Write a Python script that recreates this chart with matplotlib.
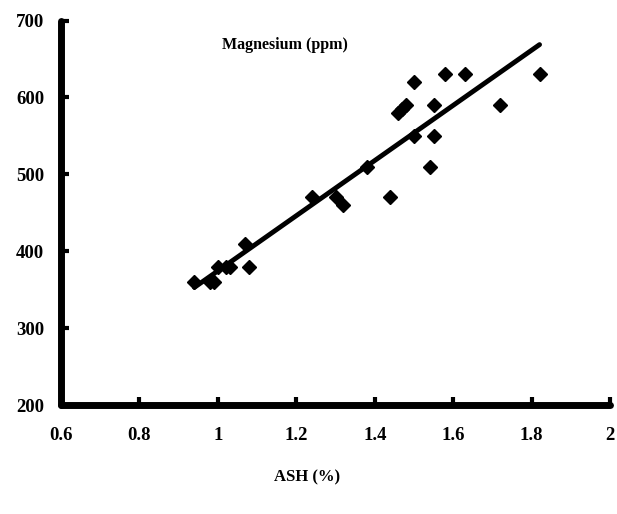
import matplotlib
matplotlib.use('Agg')
import matplotlib.pyplot as plt
import numpy as np

# ASH (%) vs Magnesium (ppm)
ash = [0.94, 0.98, 0.99, 1.00, 1.02, 1.03, 1.07, 1.08, 1.24, 1.30, 1.32, 1.38,
       1.44, 1.46, 1.47, 1.48, 1.50, 1.50, 1.54, 1.55, 1.55, 1.58, 1.63, 1.72, 1.82]
magnesium = [360, 360, 360, 380, 380, 380, 410, 380, 470, 470, 460, 510,
             470, 580, 585, 590, 620, 550, 510, 590, 550, 630, 630, 590, 630]
x_ticks = [0.6, 0.8, 1, 1.2, 1.4, 1.6, 1.8, 2]
x_labels = ['0.6', '0.8', '1', '1.2', '1.4', '1.6', '1.8', '2']
y_ticks = [200, 300, 400, 500, 600, 700]

plt.rcParams['font.family'] = ['Liberation Serif', 'DejaVu Serif']
plt.rcParams['font.weight'] = 'bold'

fig = plt.figure(figsize=(6.17, 5.14), dpi=100)
ax = fig.add_axes([0.0989, 0.212, 0.890, 0.748])

ax.plot(ash, magnesium, 'D', color='black', markersize=7.5, clip_on=False)

# linear trend line
slope, intercept = np.polyfit(ash, magnesium, 1)
xs = np.array([min(ash), max(ash)])
ax.plot(xs, slope * xs + intercept, color='black', linewidth=3.5, solid_capstyle='round')

ax.set_xlim(0.6, 2)
ax.set_ylim(200, 700)
ax.set_xticks(x_ticks)
ax.set_xticklabels(x_labels)
ax.set_yticks(y_ticks)

for s in ['top', 'right']:
    ax.spines[s].set_visible(False)
for s in ['left', 'bottom']:
    ax.spines[s].set_linewidth(5)
    ax.spines[s].set_capstyle('round')

ax.tick_params(direction='in', length=5.5, width=3, labelsize=13.5)
ax.tick_params(axis='x', pad=16)
ax.tick_params(axis='y', pad=12)
for lab in ax.get_xticklabels() + ax.get_yticklabels():
    lab.set_fontweight('bold')

ax.text(0.408, 0.936, 'Magnesium (ppm)', transform=ax.transAxes, ha='center', va='center',
        fontsize=11.5, fontweight='bold')
fig.text(0.497, 0.072, 'ASH (%)', ha='center', va='center', fontsize=12, fontweight='bold')

fig.savefig('out.png', dpi=100)
